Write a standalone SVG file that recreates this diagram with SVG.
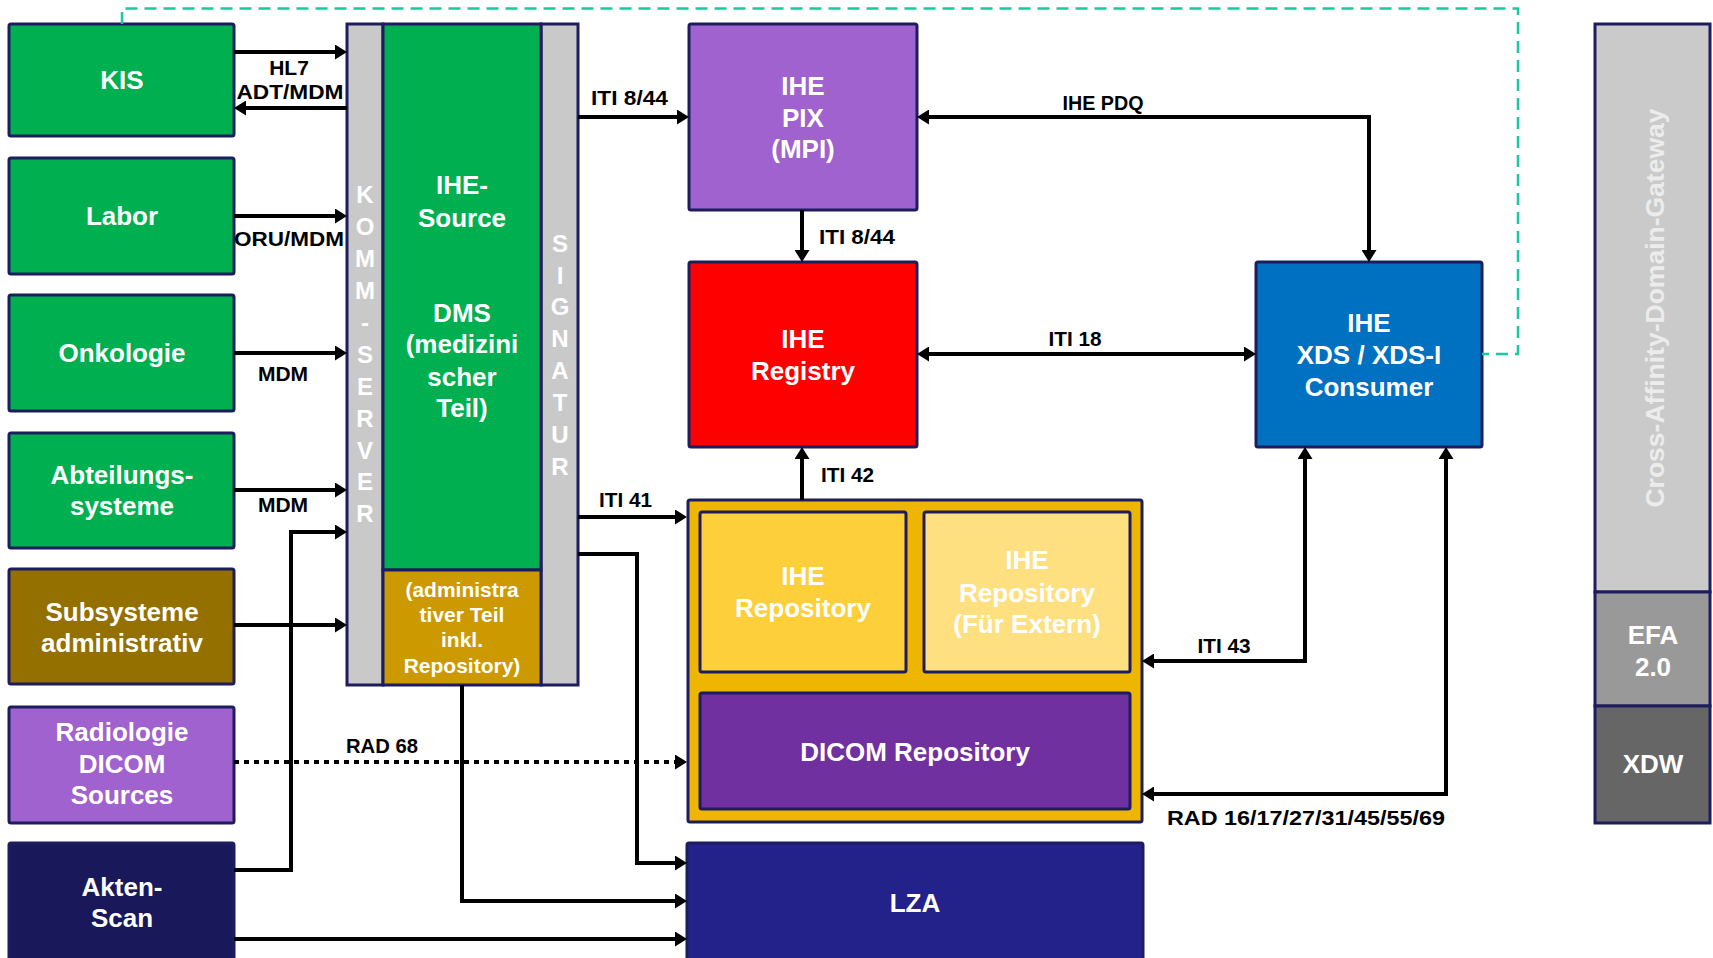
<svg xmlns="http://www.w3.org/2000/svg" width="1713" height="958" viewBox="0 0 1713 958">
<style>
.box{stroke:#1c1c5e;stroke-width:3}
.wt{font-family:"Liberation Sans",Arial,sans-serif;font-weight:bold;font-size:26px;fill:#fff;text-anchor:middle}
.sm{font-size:21px}
.vl{font-family:"Liberation Sans",Arial,sans-serif;font-weight:bold;font-size:24px;fill:#fff;text-anchor:middle}
.lb{font-family:"Liberation Sans",Arial,sans-serif;font-weight:bold;font-size:21px;fill:#000}
.cn{fill:none;stroke:#000;stroke-width:4}
</style>
<defs>
<marker id="ah" viewBox="0 0 12 15" refX="6" refY="7.5" markerWidth="12" markerHeight="15" markerUnits="userSpaceOnUse" orient="auto-start-reverse">
<path d="M0,0 L12,7.5 L0,15 z" fill="#000"/>
</marker>
</defs>
<rect width="1713" height="958" fill="#fff"/>

<g id="kis"><rect class="box" x="9" y="24" width="225" height="112" rx="2" fill="#00b050"/><text class="wt" x="122" y="89">KIS</text></g>
<g id="labor"><rect class="box" x="9" y="158" width="225" height="116" rx="2" fill="#00b050"/><text class="wt" x="122" y="225">Labor</text></g>
<g id="onkologie"><rect class="box" x="9" y="295" width="225" height="116" rx="2" fill="#00b050"/><text class="wt" x="122" y="362">Onkologie</text></g>
<g id="abteilungssysteme"><rect class="box" x="9" y="433" width="225" height="115" rx="2" fill="#00b050"/><text class="wt" x="122" y="484">Abteilungs-</text><text class="wt" x="122" y="515">systeme</text></g>
<g id="subsysteme"><rect class="box" x="9" y="569" width="225" height="115" rx="2" fill="#947000"/><text class="wt" x="122" y="621">Subsysteme</text><text class="wt" x="122" y="652">administrativ</text></g>
<g id="radiologie"><rect class="box" x="9" y="707" width="225" height="116" rx="2" fill="#a062ce"/><text class="wt" x="122" y="741">Radiologie</text><text class="wt" x="122" y="773">DICOM</text><text class="wt" x="122" y="804">Sources</text></g>
<g id="aktenscan"><rect class="box" x="9" y="843" width="225" height="125" rx="2" fill="#18185a"/><text class="wt" x="122" y="896">Akten-</text><text class="wt" x="122" y="927">Scan</text></g>

<g id="kommserver"><rect class="box" x="347" y="24" width="36" height="661" fill="#c9c9c9"/>
<text class="vl" x="365" y="203">K</text><text class="vl" x="365" y="235">O</text><text class="vl" x="365" y="267">M</text><text class="vl" x="365" y="299">M</text><text class="vl" x="365" y="331">-</text><text class="vl" x="365" y="363">S</text><text class="vl" x="365" y="395">E</text><text class="vl" x="365" y="427">R</text><text class="vl" x="365" y="459">V</text><text class="vl" x="365" y="490">E</text><text class="vl" x="365" y="522">R</text></g>
<g id="signatur"><rect class="box" x="541" y="24" width="37" height="661" fill="#c9c9c9"/>
<text class="vl" x="560" y="252">S</text><text class="vl" x="560" y="284">I</text><text class="vl" x="560" y="315">G</text><text class="vl" x="560" y="347">N</text><text class="vl" x="560" y="379">A</text><text class="vl" x="560" y="411">T</text><text class="vl" x="560" y="443">U</text><text class="vl" x="560" y="475">R</text></g>
<g id="dms"><rect class="box" x="383" y="24" width="158" height="546" fill="#00b050"/>
<text class="wt" x="462" y="194">IHE-</text><text class="wt" x="462" y="227">Source</text>
<text class="wt" x="462" y="322">DMS</text><text class="wt" x="462" y="353">(medizini</text><text class="wt" x="462" y="386">scher</text><text class="wt" x="462" y="417">Teil)</text></g>
<g id="admin"><rect class="box" x="383" y="570" width="158" height="115" fill="#cc9a00"/>
<text class="wt sm" x="462" y="597">(administra</text><text class="wt sm" x="462" y="622">tiver Teil</text><text class="wt sm" x="462" y="647">inkl.</text><text class="wt sm" x="462" y="673">Repository)</text></g>

<g id="pix"><rect class="box" x="689" y="24" width="228" height="186" rx="2" fill="#a062ce"/><text class="wt" x="803" y="95">IHE</text><text class="wt" x="803" y="127">PIX</text><text class="wt" x="803" y="158">(MPI)</text></g>
<g id="registry"><rect class="box" x="689" y="262" width="228" height="185" rx="2" fill="#ff0000"/><text class="wt" x="803" y="348">IHE</text><text class="wt" x="803" y="380">Registry</text></g>
<g id="xds"><rect class="box" x="1256" y="262" width="226" height="185" rx="2" fill="#0070c0"/><text class="wt" x="1369" y="332">IHE</text><text class="wt" x="1369" y="364">XDS / XDS-I</text><text class="wt" x="1369" y="396">Consumer</text></g>

<g id="repository-container"><rect class="box" x="688" y="500" width="454" height="322" rx="2" fill="#eeb600"/></g>
<g id="ihe-repository"><rect class="box" x="700" y="512" width="206" height="160" rx="2" fill="#fdcf3a"/><text class="wt" x="803" y="585">IHE</text><text class="wt" x="803" y="617">Repository</text></g>
<g id="ihe-repository-extern"><rect class="box" x="924" y="512" width="206" height="160" rx="2" fill="#ffe080"/><text class="wt" x="1027" y="569">IHE</text><text class="wt" x="1027" y="602">Repository</text><text class="wt" x="1027" y="633">(Für Extern)</text></g>
<g id="dicom-repository"><rect class="box" x="700" y="693" width="430" height="116" rx="2" fill="#7030a0"/><text class="wt" x="915" y="761">DICOM Repository</text></g>
<g id="lza"><rect class="box" x="687" y="843" width="456" height="125" rx="2" fill="#22228a"/><text class="wt" x="915" y="912">LZA</text></g>

<g id="gateway"><rect class="box" x="1595" y="24" width="115" height="568" fill="#cacaca"/><text class="wt" x="0" y="0" transform="translate(1664 308) rotate(-90)" style="font-size:26.5px;fill:#ececec">Cross-Affinity-Domain-Gateway</text></g>
<g id="efa"><rect class="box" x="1595" y="592" width="115" height="114" fill="#999999"/><text class="wt" x="1653" y="644">EFA</text><text class="wt" x="1653" y="676">2.0</text></g>
<g id="xdw"><rect class="box" x="1595" y="706" width="115" height="117" fill="#666666"/><text class="wt" x="1653" y="773">XDW</text></g>

<g id="connectors">
<path d="M122 24 V8.5 H1518 V354 H1482" fill="none" stroke="#19c9a0" stroke-width="2.5" stroke-dasharray="12 7"/>
<path class="cn" d="M234 52 H341" marker-end="url(#ah)"/>
<path class="cn" d="M347 108 H240" marker-end="url(#ah)"/>
<path class="cn" d="M234 216 H341" marker-end="url(#ah)"/>
<path class="cn" d="M234 353 H341" marker-end="url(#ah)"/>
<path class="cn" d="M234 490 H341" marker-end="url(#ah)"/>
<path class="cn" d="M234 625 H341" marker-end="url(#ah)"/>
<path class="cn" d="M234 870 H293 M291 870 V532 H341" marker-end="url(#ah)"/>
<path class="cn" d="M234 939 H681" marker-end="url(#ah)"/>
<path class="cn" d="M234 762 H681" stroke-width="5" stroke-dasharray="5 5" marker-end="url(#ah)"/>
<path class="cn" d="M578 117 H683" marker-end="url(#ah)"/>
<path class="cn" d="M578 517 H681" marker-end="url(#ah)"/>
<path class="cn" d="M578 554 H637 V863 H681" marker-end="url(#ah)"/>
<path class="cn" d="M462 685 V901 H681" marker-end="url(#ah)"/>
<path class="cn" d="M802 210 V256" marker-end="url(#ah)"/>
<path class="cn" d="M802 500 V453" marker-end="url(#ah)"/>
<path class="cn" d="M923 354 H1250" marker-start="url(#ah)" marker-end="url(#ah)"/>
<path class="cn" d="M923 117 H1369 V256" marker-start="url(#ah)" marker-end="url(#ah)"/>
<path class="cn" d="M1148 661 H1305 V453" marker-start="url(#ah)" marker-end="url(#ah)"/>
<path class="cn" d="M1148 794 H1446 V453" marker-start="url(#ah)" marker-end="url(#ah)"/>
<text class="lb" x="289" y="75" text-anchor="middle">HL7</text>
<text class="lb" x="290" y="99" text-anchor="middle" textLength="107" lengthAdjust="spacingAndGlyphs">ADT/MDM</text>
<text class="lb" x="289" y="246" text-anchor="middle" textLength="110" lengthAdjust="spacingAndGlyphs">ORU/MDM</text>
<text class="lb" x="283" y="381" text-anchor="middle">MDM</text>
<text class="lb" x="283" y="512" text-anchor="middle">MDM</text>
<text class="lb" x="382" y="753" text-anchor="middle" textLength="72" lengthAdjust="spacingAndGlyphs">RAD 68</text>
<text class="lb" x="591" y="105" textLength="77" lengthAdjust="spacingAndGlyphs">ITI 8/44</text>
<text class="lb" x="599" y="507" textLength="53" lengthAdjust="spacingAndGlyphs">ITI 41</text>
<text class="lb" x="819" y="244" textLength="76" lengthAdjust="spacingAndGlyphs">ITI 8/44</text>
<text class="lb" x="821" y="482" textLength="53" lengthAdjust="spacingAndGlyphs">ITI 42</text>
<text class="lb" x="1103" y="110" text-anchor="middle" textLength="81" lengthAdjust="spacingAndGlyphs">IHE PDQ</text>
<text class="lb" x="1075" y="346" text-anchor="middle" textLength="53" lengthAdjust="spacingAndGlyphs">ITI 18</text>
<text class="lb" x="1224" y="653" text-anchor="middle" textLength="53" lengthAdjust="spacingAndGlyphs">ITI 43</text>
<text class="lb" x="1167" y="825" textLength="278" lengthAdjust="spacingAndGlyphs">RAD 16/17/27/31/45/55/69</text>
</g>
</svg>
